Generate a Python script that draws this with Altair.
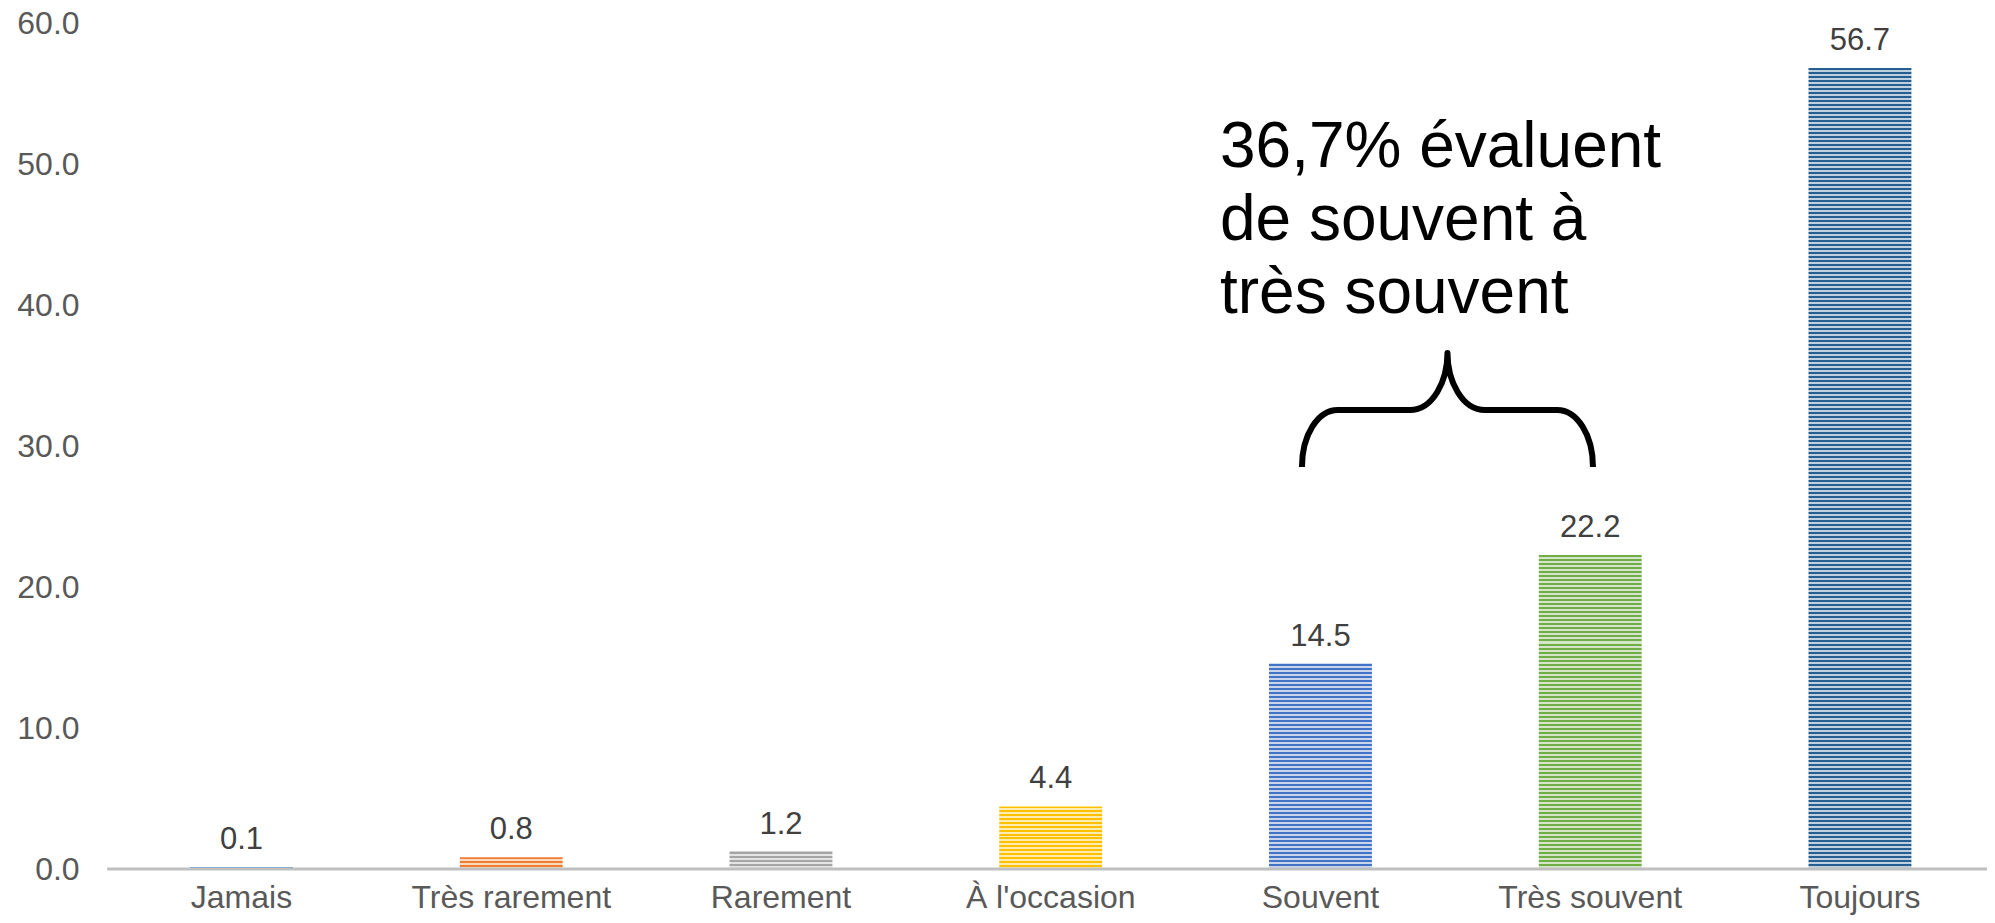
import altair as alt
import pandas as pd

# ---------------- data ----------------
categories = ["Jamais", "Très rarement", "Rarement", "À l'occasion",
              "Souvent", "Très souvent", "Toujours"]
values = [0.1, 0.8, 1.2, 4.4, 14.5, 22.2, 56.7]
bar_colors = ["#5B9BD5", "#ED7D31", "#A5A5A5", "#FFC000",
              "#4472C4", "#70AD47", "#255E91"]
y_ticks = [0, 10, 20, 30, 40, 50, 60]
annotation_lines = ["36,7% évaluent", "de souvent à", "très souvent"]
annotation_cat = ["Souvent", "Souvent", "Souvent"]
annotation_val = [49.71, 44.53, 39.34]
brace_cat = ["Souvent"]
brace_val = [32.48]

# ---------------- layout / style ----------------
W, H = 1880, 847
Y_MAX = 60
STRIPE = 4
FONT = "Liberation Sans"


def tint(hexcol, f=0.7):
    r, g, b = (int(hexcol[i:i + 2], 16) for i in (1, 3, 5))
    r, g, b = (round(c + (255 - c) * f) for c in (r, g, b))
    return "#%02x%02x%02x" % (r, g, b)


def stripes(hexcol, value):
    h = value / Y_MAX * H
    n = max(1, round(h / STRIPE))
    light = tint(hexcol)
    stops = []
    for k in range(n):
        a, m, b = k / n, (k + 0.5) / n, (k + 1) / n
        stops += [{"offset": a, "color": hexcol}, {"offset": m, "color": hexcol},
                  {"offset": m, "color": light}, {"offset": b, "color": light}]
    return {"gradient": "linear", "x1": 0, "y1": 0, "x2": 0, "y2": 1, "stops": stops}


df = pd.DataFrame({"cat": categories, "val": values,
                   "label": [f"{v:.1f}" for v in values]})
ann_df = pd.DataFrame({"cat": annotation_cat, "val": annotation_val,
                       "txt": annotation_lines})
brace_df = pd.DataFrame({"cat": brace_cat, "val": brace_val})

x_enc = alt.X("cat:N", sort=categories,
              scale=alt.Scale(domain=categories, paddingInner=0.6185,
                              paddingOuter=0.294, align=0.526),
              axis=alt.Axis(title=None, ticks=False, labelAngle=0, labelLimit=0,
                            domainColor="#BFBFBF", domainWidth=3, zindex=1,
                            labelFont=FONT, labelFontSize=32, labelColor="#595959",
                            labelPadding=14))
y_enc = alt.Y("val:Q", scale=alt.Scale(domain=[0, Y_MAX], nice=False, zero=True),
              axis=alt.Axis(title=None, values=y_ticks, format=".1f", grid=False,
                            domain=False, ticks=False, labelFont=FONT,
                            labelFontSize=32, labelColor="#595959", labelPadding=27.5,
                            labelOffset=1.5))

layers = []
for c, v, col in zip(categories, values, bar_colors):
    layers.append(
        alt.Chart(df).transform_filter(alt.datum.cat == c)
        .mark_bar(fill=stripes(col, v), strokeWidth=0)
        .encode(x=x_enc, y=y_enc)
    )

labels = alt.Chart(df).mark_text(
    baseline="alphabetic", align="center", dy=-18,
    font=FONT, fontSize=31, color="#404040"
).encode(x=x_enc, y=y_enc, text="label:N")

annotation = alt.Chart(ann_df).mark_text(
    align="left", baseline="alphabetic", dx=-100.5,
    font=FONT, fontSize=64, color="#000000"
).encode(x=x_enc, y=y_enc, text="txt:N")

brace_path = ("M -1 0.392 C -1 0.17 -0.89 0 -0.753 0 L -0.258 0 "
              "C -0.1 0 0 -0.2 0 -0.392 C 0 -0.2 0.1 0 0.258 0 "
              "L 0.753 0 C 0.89 0 1 0.17 1 0.392")
brace = alt.Chart(brace_df).mark_point(
    shape=brace_path, size=291 * 291, filled=False, stroke="#000000",
    strokeWidth=6, opacity=1, strokeJoin="round", strokeCap="butt", xOffset=127
).encode(x=x_enc, y=y_enc)

chart = alt.layer(*layers, labels, annotation, brace).properties(
    width=W, height=H,
    autosize=alt.AutoSizeParams(type="none"),
    padding={"left": 98.6, "top": 13.5, "right": 0, "bottom": 46.5},
).configure_view(stroke=None)

chart.save("out.html", embed_options={"renderer": "svg", "actions": False})
